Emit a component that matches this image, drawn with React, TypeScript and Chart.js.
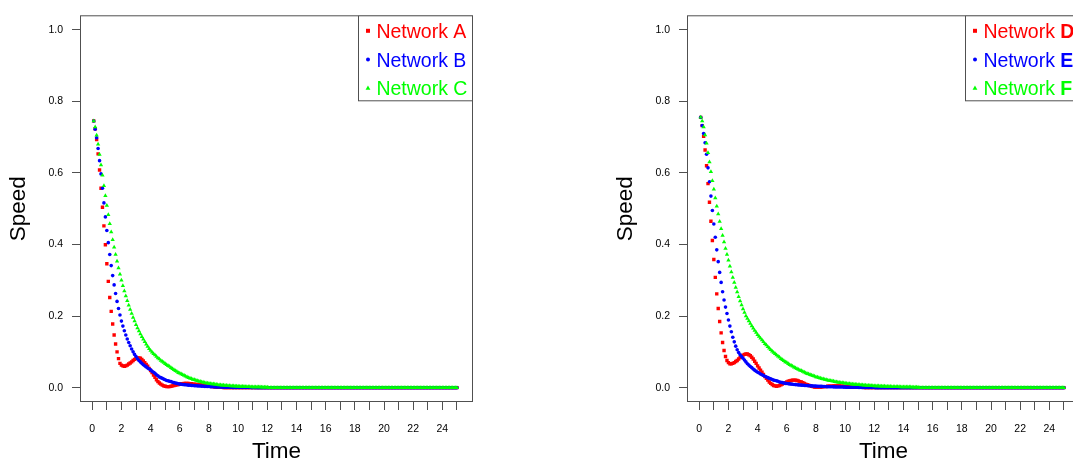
import { useEffect, useRef } from 'react';
import { Chart, registerables } from 'chart.js';

Chart.register(...registerables);

// ---------- data ----------
const time = [
  0.1, 0.2, 0.3, 0.4, 0.5, 0.6, 0.7, 0.8, 0.9, 1.0,
  1.1, 1.2, 1.3, 1.4, 1.5, 1.6, 1.7, 1.8, 1.9, 2.0,
  2.1, 2.2, 2.3, 2.4, 2.5, 2.6, 2.7, 2.8, 2.9, 3.0,
  3.1, 3.2, 3.3, 3.4, 3.5, 3.6, 3.7, 3.8, 3.9, 4.0,
  4.1, 4.2, 4.3, 4.4, 4.5, 4.6, 4.7, 4.8, 4.9, 5.0,
  5.1, 5.2, 5.3, 5.4, 5.5, 5.6, 5.7, 5.8, 5.9, 6.0,
  6.1, 6.2, 6.3, 6.4, 6.5, 6.6, 6.7, 6.8, 6.9, 7.0,
  7.1, 7.2, 7.3, 7.4, 7.5, 7.6, 7.7, 7.8, 7.9, 8.0,
  8.1, 8.2, 8.3, 8.4, 8.5, 8.6, 8.7, 8.8, 8.9, 9.0,
  9.1, 9.2, 9.3, 9.4, 9.5, 9.6, 9.7, 9.8, 9.9, 10.0,
  10.1, 10.2, 10.3, 10.4, 10.5, 10.6, 10.7, 10.8, 10.9, 11.0,
  11.1, 11.2, 11.3, 11.4, 11.5, 11.6, 11.7, 11.8, 11.9, 12.0,
  12.1, 12.2, 12.3, 12.4, 12.5, 12.6, 12.7, 12.8, 12.9, 13.0,
  13.1, 13.2, 13.3, 13.4, 13.5, 13.6, 13.7, 13.8, 13.9, 14.0,
  14.1, 14.2, 14.3, 14.4, 14.5, 14.6, 14.7, 14.8, 14.9, 15.0,
  15.1, 15.2, 15.3, 15.4, 15.5, 15.6, 15.7, 15.8, 15.9, 16.0,
  16.1, 16.2, 16.3, 16.4, 16.5, 16.6, 16.7, 16.8, 16.9, 17.0,
  17.1, 17.2, 17.3, 17.4, 17.5, 17.6, 17.7, 17.8, 17.9, 18.0,
  18.1, 18.2, 18.3, 18.4, 18.5, 18.6, 18.7, 18.8, 18.9, 19.0,
  19.1, 19.2, 19.3, 19.4, 19.5, 19.6, 19.7, 19.8, 19.9, 20.0,
  20.1, 20.2, 20.3, 20.4, 20.5, 20.6, 20.7, 20.8, 20.9, 21.0,
  21.1, 21.2, 21.3, 21.4, 21.5, 21.6, 21.7, 21.8, 21.9, 22.0,
  22.1, 22.2, 22.3, 22.4, 22.5, 22.6, 22.7, 22.8, 22.9, 23.0,
  23.1, 23.2, 23.3, 23.4, 23.5, 23.6, 23.7, 23.8, 23.9, 24.0,
  24.1, 24.2, 24.3, 24.4, 24.5, 24.6, 24.7, 24.8, 24.9, 25.0,
];

// values read as zero from t = 12.1 onwards
const zeroTail = [
  0, 0, 0, 0, 0, 0, 0, 0, 0, 0,
  0, 0, 0, 0, 0, 0, 0, 0, 0, 0,
  0, 0, 0, 0, 0, 0, 0, 0, 0, 0,
  0, 0, 0, 0, 0, 0, 0, 0, 0, 0,
  0, 0, 0, 0, 0, 0, 0, 0, 0, 0,
  0, 0, 0, 0, 0, 0, 0, 0, 0, 0,
  0, 0, 0, 0, 0, 0, 0, 0, 0, 0,
  0, 0, 0, 0, 0, 0, 0, 0, 0, 0,
  0, 0, 0, 0, 0, 0, 0, 0, 0, 0,
  0, 0, 0, 0, 0, 0, 0, 0, 0, 0,
  0, 0, 0, 0, 0, 0, 0, 0, 0, 0,
  0, 0, 0, 0, 0, 0, 0, 0, 0, 0,
  0, 0, 0, 0, 0, 0, 0, 0, 0, 0,
];

const networkA = [
  0.745, 0.723, 0.693, 0.653, 0.608, 0.557, 0.504, 0.452, 0.399, 0.346,
  0.297, 0.252, 0.213, 0.178, 0.147, 0.122, 0.100, 0.081, 0.068, 0.063,
  0.061, 0.060, 0.061, 0.063, 0.066, 0.069, 0.072, 0.076, 0.079, 0.081,
  0.083, 0.083, 0.082, 0.079, 0.075, 0.070, 0.065, 0.060, 0.054, 0.048,
  0.042, 0.035, 0.029, 0.022, 0.017, 0.013, 0.010, 0.007, 0.005, 0.004,
  0.003, 0.003, 0.003, 0.004, 0.005, 0.006, 0.007, 0.008, 0.009, 0.010,
  0.011, 0.011, 0.012, 0.012, 0.012, 0.012, 0.011, 0.011, 0.010, 0.010,
  0.009, 0.009, 0.008, 0.008, 0.007, 0.007, 0.006, 0.006, 0.005, 0.004,
  0.004, 0.003, 0.003, 0.002, 0.002, 0.001, 0.001, 0.001, 0.001, 0,
  0, 0, 0, 0, 0, 0, 0, 0, 0, 0,
  0, 0, 0, 0, 0, 0, 0, 0, 0, 0,
  0, 0, 0, 0, 0, 0, 0, 0, 0, 0,
];

const networkB = [
  0.745, 0.722, 0.698, 0.668, 0.634, 0.597, 0.557, 0.516, 0.477, 0.439,
  0.405, 0.372, 0.341, 0.313, 0.287, 0.263, 0.241, 0.221, 0.203, 0.186,
  0.172, 0.159, 0.147, 0.136, 0.126, 0.117, 0.108, 0.100, 0.093, 0.087,
  0.081, 0.076, 0.072, 0.068, 0.064, 0.061, 0.058, 0.055, 0.052, 0.050,
  0.046, 0.043, 0.040, 0.036, 0.033, 0.030, 0.028, 0.026, 0.024, 0.022,
  0.020, 0.019, 0.018, 0.017, 0.015, 0.014, 0.013, 0.012, 0.011, 0.010,
  0.0095, 0.009, 0.0085, 0.008, 0.0075, 0.007, 0.0067, 0.0063, 0.006, 0.0057,
  0.0054, 0.0051, 0.0048, 0.0045, 0.0042, 0.004, 0.0037, 0.0035, 0.0033, 0.0031,
  0.0029, 0.0027, 0.0025, 0.0023, 0.0021, 0.002, 0.0018, 0.0017, 0.0016, 0.0015,
  0.0014, 0.0013, 0.0012, 0.0011, 0.001, 0.0009, 0.0008, 0.0008, 0.0007, 0.0006,
  0.0006, 0.0005, 0.0005, 0.0004, 0.0004, 0.0003, 0.0003, 0.0003, 0.0002, 0.0002,
  0.0002, 0.0002, 0.0001, 0.0001, 0.0001, 0.0001, 0.0001, 0, 0, 0,
];

const networkC = [
  0.745, 0.728, 0.705, 0.680, 0.651, 0.622, 0.593, 0.564, 0.536, 0.509,
  0.483, 0.458, 0.435, 0.413, 0.392, 0.372, 0.353, 0.334, 0.317, 0.300,
  0.285, 0.270, 0.256, 0.243, 0.230, 0.218, 0.207, 0.196, 0.186, 0.176,
  0.167, 0.158, 0.150, 0.142, 0.135, 0.128, 0.121, 0.115, 0.109, 0.104,
  0.099, 0.095, 0.091, 0.087, 0.083, 0.080, 0.076, 0.073, 0.070, 0.067,
  0.064, 0.061, 0.059, 0.056, 0.053, 0.050, 0.047, 0.045, 0.042, 0.040,
  0.038, 0.036, 0.034, 0.032, 0.030, 0.028, 0.026, 0.025, 0.023, 0.022,
  0.021, 0.019, 0.018, 0.017, 0.016, 0.015, 0.014, 0.013, 0.0125, 0.012,
  0.011, 0.0105, 0.010, 0.0093, 0.0088, 0.0083, 0.0078, 0.0074, 0.007, 0.0066,
  0.0062, 0.0059, 0.0056, 0.0053, 0.005, 0.0047, 0.0045, 0.0042, 0.004, 0.0038,
  0.0036, 0.0034, 0.0032, 0.003, 0.0028, 0.0027, 0.0025, 0.0024, 0.0022, 0.0021,
  0.002, 0.0019, 0.0018, 0.0017, 0.0016, 0.0015, 0.0014, 0.0013, 0.0012, 0.0011,
];

const networkD = [
  0.755, 0.732, 0.702, 0.664, 0.620, 0.570, 0.518, 0.465, 0.411, 0.358,
  0.308, 0.262, 0.221, 0.185, 0.153, 0.126, 0.104, 0.087, 0.076, 0.070,
  0.067, 0.067, 0.068, 0.070, 0.073, 0.076, 0.080, 0.084, 0.088, 0.091,
  0.093, 0.094, 0.094, 0.092, 0.089, 0.085, 0.080, 0.074, 0.068, 0.061,
  0.055, 0.049, 0.043, 0.037, 0.031, 0.026, 0.021, 0.016, 0.012, 0.009,
  0.006, 0.005, 0.004, 0.005, 0.006, 0.008, 0.010, 0.012, 0.014, 0.016,
  0.018, 0.019, 0.020, 0.021, 0.021, 0.021, 0.020, 0.019, 0.017, 0.016,
  0.014, 0.012, 0.010, 0.008, 0.007, 0.005, 0.004, 0.003, 0.002, 0.002,
  0.002, 0.002, 0.002, 0.002, 0.003, 0.003, 0.003, 0.004, 0.004, 0.004,
  0.004, 0.005, 0.005, 0.005, 0.005, 0.005, 0.004, 0.004, 0.004, 0.003,
  0.003, 0.002, 0.002, 0.002, 0.001, 0.001, 0.001, 0.001, 0.001, 0.001,
  0.001, 0.001, 0, 0, 0, 0, 0, 0, 0, 0,
];

const networkE = [
  0.755, 0.732, 0.710, 0.684, 0.652, 0.614, 0.575, 0.535, 0.495, 0.457,
  0.420, 0.385, 0.352, 0.322, 0.294, 0.268, 0.245, 0.225, 0.207, 0.189,
  0.172, 0.156, 0.141, 0.128, 0.116, 0.106, 0.098, 0.092, 0.087, 0.082,
  0.077, 0.072, 0.067, 0.063, 0.059, 0.056, 0.052, 0.049, 0.046, 0.043,
  0.041, 0.038, 0.036, 0.034, 0.032, 0.030, 0.028, 0.026, 0.025, 0.023,
  0.021, 0.020, 0.019, 0.018, 0.016, 0.015, 0.014, 0.013, 0.012, 0.0115,
  0.011, 0.0105, 0.010, 0.0095, 0.009, 0.0086, 0.0082, 0.0078, 0.0074, 0.007,
  0.0067, 0.0064, 0.0061, 0.0058, 0.0055, 0.0052, 0.005, 0.0047, 0.0045, 0.0043,
  0.0041, 0.0039, 0.0037, 0.0035, 0.0033, 0.0031, 0.003, 0.0028, 0.0027, 0.0025,
  0.0024, 0.0023, 0.0022, 0.0021, 0.002, 0.0019, 0.0018, 0.0017, 0.0016, 0.0015,
  0.0014, 0.0013, 0.0013, 0.0012, 0.0011, 0.0011, 0.001, 0.001, 0.0009, 0.0009,
  0.0008, 0.0008, 0.0007, 0.0007, 0.0006, 0.0006, 0.0005, 0.0005, 0.0005, 0.0004,
];

const networkF = [
  0.755, 0.745, 0.728, 0.706, 0.683, 0.656, 0.630, 0.603, 0.578, 0.554,
  0.530, 0.507, 0.485, 0.464, 0.444, 0.425, 0.407, 0.389, 0.372, 0.356,
  0.339, 0.323, 0.308, 0.294, 0.280, 0.267, 0.254, 0.242, 0.231, 0.220,
  0.210, 0.200, 0.193, 0.186, 0.179, 0.172, 0.166, 0.160, 0.154, 0.148,
  0.143, 0.138, 0.133, 0.128, 0.123, 0.119, 0.114, 0.110, 0.106, 0.102,
  0.098, 0.095, 0.091, 0.088, 0.085, 0.081, 0.078, 0.075, 0.072, 0.070,
  0.067, 0.064, 0.062, 0.060, 0.057, 0.055, 0.053, 0.051, 0.049, 0.047,
  0.045, 0.043, 0.041, 0.039, 0.038, 0.036, 0.035, 0.033, 0.032, 0.030,
  0.029, 0.028, 0.026, 0.025, 0.024, 0.023, 0.022, 0.021, 0.020, 0.019,
  0.0185, 0.0177, 0.0169, 0.0162, 0.0155, 0.0148, 0.0141, 0.0135, 0.0129, 0.0124,
  0.0118, 0.0113, 0.0108, 0.0103, 0.0099, 0.0094, 0.009, 0.0086, 0.0082, 0.0079,
  0.0075, 0.0072, 0.0069, 0.0066, 0.0063, 0.006, 0.0058, 0.0055, 0.0053, 0.005,
  0.0048, 0.0046, 0.0044, 0.0042, 0.004, 0.0038, 0.0037, 0.0035, 0.0034, 0.0032,
  0.0031, 0.0029, 0.0028, 0.0027, 0.0026, 0.0024, 0.0023, 0.0022, 0.0021, 0.002,
  0.0019, 0.0018, 0.0018, 0.0017, 0.0016, 0.0015, 0.0015, 0.0014, 0.0013, 0.0013,
];

const xTicks = [0, 1, 2, 3, 4, 5, 6, 7, 8, 9, 10, 11, 12, 13, 14, 15, 16, 17, 18, 19, 20, 21, 22, 23, 24, 25];
const xTickLabels = ['0', '', '2', '', '4', '', '6', '', '8', '', '10', '', '12', '', '14', '', '16', '', '18', '', '20', '', '22', '', '24', ''];
const yTicks = [0, 0.2, 0.4, 0.6, 0.8, 1.0];
const yTickLabels = ['0.0', '0.2', '0.4', '0.6', '0.8', '1.0'];
const leftLabels = ['Network A', 'Network B', 'Network C'];
const rightLabels = ['Network D', 'Network E', 'Network F'];
const xTitle = 'Time';
const yTitle = 'Speed';

// ---------- styles ----------
const FONT = '"Liberation Sans", Arial, Helvetica, sans-serif';
const AXIS = '#505050';
const COLORS = ['#FF0000', '#0000FF', '#00FF00'];
const STYLES = [
  { pointStyle: 'rect', radius: 2.4, order: 3 },
  { pointStyle: 'circle', radius: 1.8, order: 2 },
  { pointStyle: 'triangle', radius: 2.5, order: 1 },
];
const W = 560;
const H = 464;

const pad = (s: number[]) => s.concat(zeroTail.slice(0, time.length - s.length));

function decorPlugin(labels: string[], boldLast: boolean) {
  return {
    id: 'decor',
    afterDraw(chart: any) {
      const { ctx, chartArea: a } = chart;
      ctx.save();
      // plot box
      ctx.strokeStyle = AXIS;
      ctx.lineWidth = 1;
      ctx.strokeRect(a.left + 0.5, a.top + 0.5, a.right - a.left - 1, a.bottom - a.top - 1);

      // legend
      const lw = 115;
      const lh = 85;
      const lx = a.right - lw;
      const ly = a.top;
      ctx.fillStyle = '#ffffff';
      ctx.fillRect(lx, ly, lw, lh);
      ctx.strokeRect(lx + 0.5, ly + 0.5, lw - 1, lh);
      ctx.textAlign = 'left';
      ctx.textBaseline = 'alphabetic';
      labels.forEach((lab, k) => {
        const base = ly + 22.5 + k * 28.7;
        const my = base - 7;
        const mx = lx + 10;
        ctx.fillStyle = COLORS[k];
        if (k === 0) {
          ctx.fillRect(mx - 2, my - 2, 4, 4);
        } else if (k === 1) {
          ctx.beginPath();
          ctx.arc(mx, my, 2, 0, Math.PI * 2);
          ctx.fill();
        } else {
          ctx.beginPath();
          ctx.moveTo(mx, my - 2.6);
          ctx.lineTo(mx + 2.4, my + 1.6);
          ctx.lineTo(mx - 2.4, my + 1.6);
          ctx.closePath();
          ctx.fill();
        }
        const tx = lx + 18.4;
        if (boldLast) {
          const head = lab.slice(0, -1);
          const tail = lab.slice(-1);
          ctx.font = `19.5px ${FONT}`;
          ctx.fillText(head, tx, base);
          const w = ctx.measureText(head).width;
          ctx.font = `bold 19.5px ${FONT}`;
          ctx.fillText(tail, tx + w, base);
        } else {
          ctx.font = `19.5px ${FONT}`;
          ctx.fillText(lab, tx, base);
        }
      });

      // axis titles
      ctx.fillStyle = '#000000';
      ctx.font = `22.5px ${FONT}`;
      ctx.textAlign = 'center';
      ctx.textBaseline = 'alphabetic';
      ctx.fillText(xTitle, (a.left + a.right) / 2, 458.3);
      ctx.translate(24.5, (a.top + a.bottom) / 2);
      ctx.rotate(-Math.PI / 2);
      ctx.fillText(yTitle, 0, 0);
      ctx.restore();
    },
  };
}

function makeConfig(series: number[][], labels: string[], boldLast: boolean): any {
  return {
    type: 'scatter',
    data: {
      datasets: series.map((s, k) => ({
        label: labels[k],
        data: pad(s).map((y, i) => ({ x: time[i], y })),
        pointStyle: STYLES[k].pointStyle,
        pointRadius: STYLES[k].radius,
        pointHoverRadius: STYLES[k].radius,
        pointBackgroundColor: COLORS[k],
        pointBorderWidth: 0,
        backgroundColor: COLORS[k],
        borderColor: COLORS[k],
        borderWidth: 0,
        showLine: false,
        order: STYLES[k].order,
      })),
    },
    options: {
      animation: false,
      responsive: false,
      devicePixelRatio: 1,
      events: [],
      layout: { padding: { left: 0, top: 8, right: W - 473, bottom: 0 } },
      plugins: { legend: { display: false }, tooltip: { enabled: false } },
      scales: {
        x: {
          type: 'linear',
          min: -0.84,
          max: 26.1,
          afterBuildTicks: (s: any) => {
            s.ticks = xTicks.map((value) => ({ value }));
          },
          afterFit: (s: any) => {
            s.height = H - 402;
          },
          grid: { display: true, drawOnChartArea: false, drawTicks: true, tickLength: 8, color: AXIS, lineWidth: 1 },
          border: { display: false },
          ticks: {
            autoSkip: false,
            maxRotation: 0,
            minRotation: 0,
            padding: 13,
            color: '#000000',
            font: { family: FONT, size: 10.5 },
            callback: (v: number) => {
              const i = xTicks.indexOf(v);
              return i >= 0 ? xTickLabels[i] : '';
            },
          },
        },
        y: {
          type: 'linear',
          min: -0.04,
          max: 1.04,
          afterBuildTicks: (s: any) => {
            s.ticks = yTicks.map((value) => ({ value }));
          },
          afterFit: (s: any) => {
            s.width = 80;
          },
          grid: { display: true, drawOnChartArea: false, drawTicks: true, tickLength: 8, color: AXIS, lineWidth: 1 },
          border: { display: false },
          ticks: {
            autoSkip: false,
            padding: 9,
            color: '#000000',
            font: { family: FONT, size: 10.5 },
            callback: (v: number) => {
              const i = yTicks.findIndex((t) => Math.abs(t - v) < 1e-9);
              return i >= 0 ? yTickLabels[i] : '';
            },
          },
        },
      },
    },
    plugins: [decorPlugin(labels, boldLast)],
  };
}

function Panel({ series, labels, boldLast, left }: { series: number[][]; labels: string[]; boldLast: boolean; left: number }) {
  const ref = useRef<HTMLCanvasElement>(null);
  useEffect(() => {
    if (!ref.current) return;
    const chart = new Chart(ref.current, makeConfig(series, labels, boldLast));
    return () => chart.destroy();
  }, []);
  return (
    <canvas
      ref={ref}
      width={W}
      height={H}
      style={{ position: 'absolute', left, top: 0, width: W, height: H }}
    />
  );
}

export default function App() {
  return (
    <div style={{ position: 'absolute', left: 0, top: 0, width: 1073, height: 464, overflow: 'hidden', background: '#ffffff' }}>
      <Panel series={[networkA, networkB, networkC]} labels={leftLabels} boldLast={false} left={0} />
      <Panel series={[networkD, networkE, networkF]} labels={rightLabels} boldLast={true} left={607} />
    </div>
  );
}
